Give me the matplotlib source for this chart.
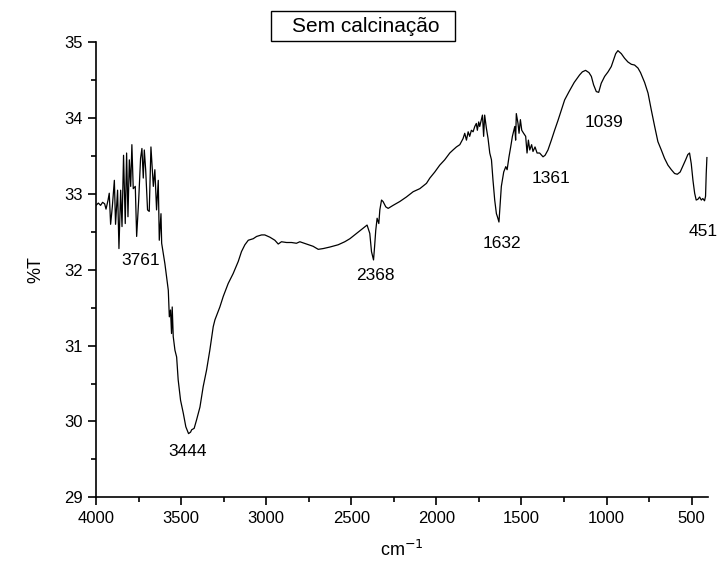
"""
FTIR spectrum, sample without calcination (Origin-style plot)
"""
import matplotlib
matplotlib.use("Agg")
import matplotlib.pyplot as plt
from matplotlib.patches import Rectangle
from matplotlib.ticker import MultipleLocator

plt.rcParams["font.family"] = ["Liberation Sans", "DejaVu Sans"]

# wavenumber (cm-1)
WAVENUMBER = [
    4000, 3986, 3973, 3961, 3949, 3941, 3929, 3922, 3914, 3904, 3892, 3885,
    3873, 3865, 3855, 3847, 3838, 3828, 3820, 3812, 3804, 3796, 3789, 3781,
    3769, 3761, 3749, 3738, 3730, 3722, 3716, 3708, 3697, 3687, 3677, 3663,
    3654, 3644, 3634, 3628, 3618, 3614, 3605, 3595, 3585, 3575, 3569, 3562,
    3556, 3552, 3546, 3536, 3526, 3517, 3503, 3487, 3472, 3456, 3444, 3438,
    3423, 3409, 3389, 3370, 3350, 3331, 3311, 3301, 3272, 3252, 3223, 3194,
    3164, 3145, 3125, 3105, 3076, 3056, 3027, 3008, 2978, 2949, 2929, 2910,
    2880, 2851, 2822, 2802, 2763, 2724, 2694, 2665, 2626, 2577, 2538, 2508,
    2469, 2430, 2407, 2391, 2381, 2369, 2363, 2356, 2348, 2338, 2332, 2322,
    2313, 2297, 2283, 2254, 2215, 2176, 2136, 2097, 2058, 2038, 2009, 1980,
    1951, 1921, 1902, 1882, 1862, 1843, 1833, 1823, 1813, 1804, 1794, 1784,
    1774, 1765, 1759, 1751, 1745, 1735, 1729, 1722, 1716, 1706, 1696, 1686,
    1676, 1667, 1657, 1647, 1641, 1632, 1626, 1618, 1604, 1592, 1584, 1573,
    1563, 1553, 1539, 1534, 1530, 1520, 1514, 1506, 1498, 1487, 1475, 1467,
    1459, 1451, 1440, 1432, 1420, 1408, 1393, 1373, 1361, 1344, 1324, 1305,
    1285, 1265, 1246, 1220, 1190, 1158, 1142, 1123, 1103, 1089, 1076, 1060,
    1046, 1031, 1011, 991, 972, 958, 946, 933, 913, 894, 874, 854,
    835, 815, 800, 776, 756, 737, 717, 698, 678, 659, 639, 619,
    600, 584, 567, 551, 535, 522, 512, 502, 492, 482, 473, 463,
    453, 443, 434, 424, 418, 414, 410,
]
TRANSMITTANCE = [
    32.85, 32.88, 32.85, 32.89, 32.87, 32.80, 32.92, 33.01, 32.60, 32.83, 33.18, 32.60,
    33.05, 32.28, 33.05, 32.57, 33.51, 32.61, 33.54, 32.70, 33.45, 33.10, 33.65, 33.07,
    33.10, 32.44, 32.92, 33.47, 33.60, 33.21, 33.58, 33.32, 32.79, 32.77, 33.62, 33.10,
    33.32, 32.79, 33.18, 32.39, 32.74, 32.35, 32.22, 32.08, 31.91, 31.73, 31.38, 31.47,
    31.16, 31.51, 31.12, 30.94, 30.85, 30.55, 30.28, 30.11, 29.93, 29.84, 29.86, 29.89,
    29.91, 30.02, 30.19, 30.46, 30.68, 30.94, 31.25, 31.34, 31.51, 31.65, 31.82, 31.95,
    32.11, 32.24, 32.33, 32.39, 32.41, 32.44, 32.46, 32.46, 32.43, 32.39, 32.34, 32.37,
    32.36, 32.36, 32.35, 32.37, 32.34, 32.31, 32.27, 32.28, 32.30, 32.33, 32.37, 32.41,
    32.48, 32.55, 32.59, 32.48, 32.24, 32.13, 32.30, 32.52, 32.68, 32.61, 32.79, 32.92,
    32.90, 32.83, 32.81, 32.85, 32.90, 32.96, 33.03, 33.07, 33.14, 33.21, 33.29, 33.38,
    33.45, 33.54, 33.58, 33.62, 33.65, 33.73, 33.80, 33.71, 33.82, 33.76, 33.84, 33.82,
    33.89, 33.93, 33.84, 33.95, 33.89, 33.98, 34.04, 33.76, 34.04, 33.87, 33.73, 33.54,
    33.45, 33.18, 32.92, 32.74, 32.70, 32.63, 32.83, 33.10, 33.29, 33.36, 33.32, 33.49,
    33.62, 33.76, 33.89, 33.71, 34.06, 33.93, 33.80, 33.98, 33.84, 33.80, 33.76, 33.54,
    33.71, 33.58, 33.65, 33.56, 33.62, 33.54, 33.54, 33.49, 33.51, 33.58, 33.71, 33.84,
    33.97, 34.11, 34.24, 34.35, 34.47, 34.57, 34.61, 34.63, 34.60, 34.55, 34.44, 34.35,
    34.34, 34.46, 34.55, 34.61, 34.68, 34.77, 34.85, 34.89, 34.85, 34.79, 34.74, 34.71,
    34.70, 34.66, 34.60, 34.47, 34.33, 34.11, 33.89, 33.69, 33.58, 33.47, 33.38, 33.32,
    33.27, 33.26, 33.29, 33.37, 33.45, 33.52, 33.54, 33.40, 33.18, 33.01, 32.92, 32.93,
    32.96, 32.92, 32.94, 32.91, 32.97, 33.27, 33.48,
]

# peak labels: text and where it sits (cm-1, %T)
PEAK_LABELS = ["3761", "3444", "2368", "1632", "1361", "1039", "451"]
LABEL_X = [3740, 3460, 2356, 1613, 1325, 1012, 433]
LABEL_Y = [32.12, 29.61, 31.93, 32.35, 33.20, 33.94, 32.50]

fig = plt.figure(figsize=(7.2, 5.7), dpi=100)
ax = fig.add_axes([0.1333, 0.1275, 0.8497, 0.7983])

ax.plot(WAVENUMBER, TRANSMITTANCE, color="black", linewidth=0.9)

for txt, lx, ly in zip(PEAK_LABELS, LABEL_X, LABEL_Y):
    ax.text(lx, ly, txt, ha="center", va="center", fontsize=12.5, color="black")

ax.set_xlim(4000, 405)
ax.set_ylim(29, 35)
ax.xaxis.set_major_locator(MultipleLocator(500))
ax.xaxis.set_minor_locator(MultipleLocator(250))
ax.yaxis.set_major_locator(MultipleLocator(1))
ax.yaxis.set_minor_locator(MultipleLocator(0.5))
ax.tick_params(which="major", direction="out", length=6, width=1.2, labelsize=12)
ax.tick_params(which="minor", direction="out", length=3.5, width=1.2)
for spine in ["top", "right"]:
    ax.spines[spine].set_visible(False)
for spine in ["left", "bottom"]:
    ax.spines[spine].set_linewidth(1.2)

ax.set_xlabel("cm$^{-1}$", fontsize=13, labelpad=10)
ax.set_ylabel("%T", fontsize=13, labelpad=14)

# title box, Origin-style legend frame
fig.patches.append(Rectangle((271 / 720, 1 - 41 / 570), 184 / 720, 30 / 570,
                             transform=fig.transFigure, fill=False,
                             edgecolor="black", linewidth=1.0))
fig.text(292 / 720, 1 - 26 / 570, "Sem calcinação", fontsize=15,
         ha="left", va="center")

fig.savefig("out.png", dpi=100, facecolor="white")
plt.close(fig)
